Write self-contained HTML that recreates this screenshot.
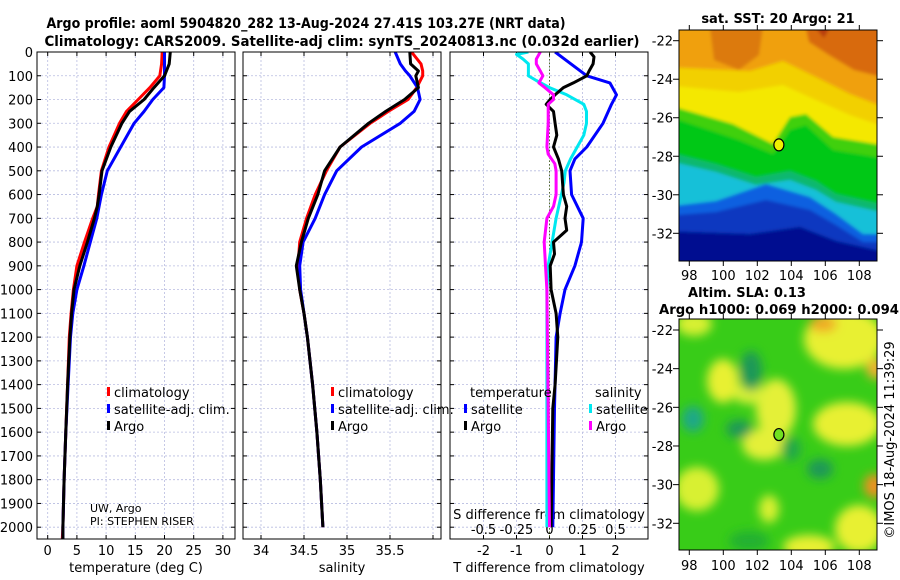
<!DOCTYPE html>
<html><head><meta charset="utf-8"><style>
html,body{margin:0;padding:0;background:#fff;}
svg{display:block;font-family:"DejaVu Sans","Liberation Sans",sans-serif;}
</style></head><body>
<svg id="fig" width="900" height="580" viewBox="0 0 900 580" xmlns="http://www.w3.org/2000/svg">
<defs>
<clipPath id="c1"><rect x="37" y="52" width="198" height="487"/></clipPath>
<clipPath id="c2"><rect x="243" y="52" width="198" height="487"/></clipPath>
<clipPath id="c3"><rect x="450" y="52" width="198" height="487"/></clipPath>
<clipPath id="m1"><rect x="679" y="30" width="198" height="231"/></clipPath>
<clipPath id="m2"><rect x="679" y="319" width="198" height="231"/></clipPath>
<filter id="bl" x="-20%" y="-20%" width="140%" height="140%"><feGaussianBlur stdDeviation="1.5"/></filter>
<filter id="bl2" x="-50%" y="-50%" width="200%" height="200%"><feGaussianBlur stdDeviation="5"/></filter>
</defs>
<text x="306" y="28" text-anchor="middle" font-weight="bold" font-size="14" textLength="519" lengthAdjust="spacingAndGlyphs">Argo profile: aoml 5904820_282 13-Aug-2024 27.41S 103.27E (NRT data)</text>
<text x="342" y="46" text-anchor="middle" font-weight="bold" font-size="14" textLength="595" lengthAdjust="spacingAndGlyphs">Climatology: CARS2009. Satellite-adj clim: synTS_20240813.nc (0.032d earlier)</text>

<!-- top map -->
<g clip-path="url(#m1)">
<g filter="url(#bl)" transform="translate(679,30)">
<rect x="-20" y="-20" width="240" height="275" fill="#f0a008"/>
<path d="M30,-10 L85,-10 L80,25 L60,40 L35,30 Z" fill="#dc7a10"/>
<path d="M125,-10 L215,-10 L215,50 L175,40 L150,25 L130,12 Z" fill="#d86a10"/>
<path d="M130,-10 L155,-10 L145,8 Z" fill="#b83c08"/>
<path d="M-15,37 L71,41 L104,31 L137,47 L171,64 L215,81 L215,250 L-15,250 Z" fill="#f2d000"/>
<path d="M-15,55 L60,62 L104,55 L137,70 L171,85 L215,100 L215,250 L-15,250 Z" fill="#f4e800"/>
<path d="M-15,74 L54,94 L94,114 L111,87 L127,84 L154,107 L215,117 L215,250 L-15,250 Z" fill="#40d010"/>
<path d="M-15,85 L60,110 L94,124 L111,100 L127,95 L154,120 L215,130 L215,250 L-15,250 Z" fill="#00c818"/>
<path d="M-15,121 L37,134 L77,147 L111,141 L137,151 L157,164 L215,177 L215,250 L-15,250 Z" fill="#10b870"/>
<path d="M-15,130 L37,142 L77,155 L111,150 L137,160 L157,172 L215,185 L215,250 L-15,250 Z" fill="#18c0d8"/>
<path d="M-15,177 L37,171 L87,154 L131,167 L157,184 L184,204 L215,204 L215,250 L-15,250 Z" fill="#1060e0"/>
<path d="M-15,186 L37,182 L87,170 L131,180 L157,195 L184,212 L215,212 L215,250 L-15,250 Z" fill="#0838c0"/>
<path d="M-15,201 L71,204 L121,197 L157,211 L215,224 L215,250 L-15,250 Z" fill="#000c90"/>
</g></g>
<rect x="679" y="30" width="198" height="231" fill="none" stroke="#000" stroke-width="1"/>
<text x="778" y="23" text-anchor="middle" font-weight="bold" font-size="13">sat. SST: 20 Argo: 21</text>

<!-- bottom map -->
<g clip-path="url(#m2)">
<g transform="translate(679,319)">
<rect x="-10" y="-10" width="220" height="250" fill="#38cc18"/>
<g filter="url(#bl2)">
<ellipse cx="44" cy="62" rx="16" ry="22" fill="#e8f030"/>
<ellipse cx="97" cy="90" rx="20" ry="30" fill="#e4f038"/>
<ellipse cx="85" cy="125" rx="22" ry="16" fill="#e4f038"/>
<ellipse cx="70" cy="75" rx="16" ry="10" fill="#d8f038"/>
<ellipse cx="165" cy="20" rx="40" ry="30" fill="#e8f030"/>
<ellipse cx="168" cy="105" rx="34" ry="22" fill="#e8f030"/>
<ellipse cx="180" cy="210" rx="24" ry="24" fill="#e8f030"/>
<ellipse cx="18" cy="170" rx="22" ry="22" fill="#d8f030"/>
<ellipse cx="15" cy="5" rx="18" ry="12" fill="#d8f030"/>
<ellipse cx="130" cy="228" rx="26" ry="12" fill="#e8f030"/>
<ellipse cx="90" cy="190" rx="10" ry="14" fill="#d8f030"/>
<ellipse cx="72" cy="52" rx="11" ry="20" fill="#1c9858"/>
<ellipse cx="14" cy="100" rx="11" ry="13" fill="#1ca888"/>
<ellipse cx="60" cy="110" rx="13" ry="9" fill="#1c9858"/>
<ellipse cx="141" cy="150" rx="13" ry="10" fill="#1c9858"/>
<ellipse cx="112" cy="130" rx="10" ry="12" fill="#22a848"/>
<ellipse cx="70" cy="222" rx="20" ry="10" fill="#22b030"/>
<ellipse cx="195" cy="167" rx="10" ry="12" fill="#f09020"/>
<ellipse cx="144" cy="5" rx="14" ry="8" fill="#f0a828"/>
<ellipse cx="197" cy="50" rx="10" ry="10" fill="#f0b030"/>
</g></g></g>
<rect x="679" y="319" width="198" height="231" fill="none" stroke="#000" stroke-width="1"/>
<text x="747" y="297" text-anchor="middle" font-weight="bold" font-size="13">Altim. SLA: 0.13</text>
<text x="779" y="314" text-anchor="middle" font-weight="bold" font-size="13" textLength="240" lengthAdjust="spacingAndGlyphs">Argo h1000: 0.069 h2000: 0.094</text>
<text transform="translate(894,440) rotate(-90)" text-anchor="middle" font-size="13">©IMOS 18-Aug-2024 11:39:29</text>
<g id="plots"></g>
</svg>
<script>
// ---- data ----
const depthTicks = [0,100,200,300,400,500,600,700,800,900,1000,1100,1200,1300,1400,1500,1600,1700,1800,1900,2000];
const tTicks = [0,5,10,15,20,25,30];
const sTicks = [34,34.5,35,35.5];
const dTTicks = [-2,-1,0,1,2];
const dSTicks = [-0.5,-0.25,0,0.25,0.5];
const dSTickLabels = ["-0.5","-0.25","0","0.25","0.5"];
const lonTicks = [98,100,102,104,106,108];
const latTicks = [-22,-24,-26,-28,-30,-32];
const argoLon = 103.27, argoLat = -27.41;

const tDepth = [0,50,100,150,200,250,300,400,500,600,650,700,800,900,1000,1100,1200,1400,1600,1800,2000,2050];
const tClim  = [19.6,19.5,19.2,17.5,15.5,13.5,12.3,10.5,9.2,8.7,8.5,7.7,6.3,5.0,4.4,4.0,3.7,3.4,3.1,2.8,2.6,2.5];
const tArgo  = [21.0,20.8,20.0,18.2,16.5,14.0,12.7,10.8,9.3,8.8,8.5,8.0,6.8,5.5,4.5,4.1,3.8,3.4,3.1,2.8,2.6,2.6];
const tSat   = [20.0,20.0,20.0,19.9,18.0,16.5,14.8,12.5,10.2,9.2,8.8,8.4,7.3,6.2,5.0,4.3,3.9,3.5,3.1,2.8,2.6,2.6];

const sDepth = [0,50,80,100,150,200,250,300,400,500,600,700,800,900,1000,1100,1200,1400,1600,1800,2000];
const sClim  = [35.75,35.86,35.88,35.88,35.81,35.71,35.48,35.27,34.92,34.76,34.63,34.53,34.45,34.43,34.45,34.5,34.54,34.6,34.65,34.69,34.72];
const sArgo  = [35.73,35.74,35.83,35.80,35.83,35.67,35.45,35.25,34.92,34.74,34.66,34.55,34.47,34.41,34.45,34.5,34.54,34.6,34.65,34.69,34.72];
const sSat   = [35.56,35.62,35.68,35.73,35.82,35.85,35.78,35.62,35.17,34.88,34.74,34.63,34.49,34.45,34.46,34.5,34.54,34.6,34.65,34.69,34.72];

const dtSatDepth = [0,100,130,180,220,300,400,450,500,600,700,800,900,1000,1100,1200,1500,2000];
const dtSat      = [0.17,1.13,1.83,2.03,1.88,1.62,1.13,0.77,0.62,0.67,1.02,0.97,0.77,0.47,0.32,0.2,0.15,0.1];
const dtArgoDepth = [0,20,50,80,100,130,150,180,200,220,250,300,350,400,450,500,600,650,700,750,800,850,900,1000,1100,1200,1400,1500,2000];
const dtArgo      = [1.23,1.35,1.32,1.2,1.13,0.72,0.42,0.17,0.02,-0.1,0.12,0.17,0.22,0.12,0.27,0.37,0.42,0.52,0.47,0.52,0.12,0.15,0.02,0.05,0.2,0.25,0.17,0.1,0.05];
const dsSatDepth = [0,10,30,50,100,120,150,180,220,250,300,350,400,450,500,550,600,700,800,900,1000,1500,2000];
const dsSat      = [-0.16,-0.25,-0.2,-0.16,-0.16,-0.1,0,0.13,0.26,0.28,0.28,0.26,0.21,0.16,0.12,0.11,0.09,0.05,0.02,-0.01,-0.02,-0.02,-0.02];
const dsArgoDepth = [0,30,50,80,100,130,150,180,200,220,300,400,430,470,500,600,650,700,800,900,1000,1500,2000];
const dsArgo      = [-0.07,-0.1,-0.1,-0.07,-0.05,-0.08,-0.035,0.03,0.03,-0.01,-0.01,-0.02,-0.01,0.04,0.05,0.05,0.03,-0.02,-0.04,-0.03,-0.02,-0.01,0];

// ---- scales ----
const yD = d => 52 + d*0.2376;
const xT = t => 47.7 + t*5.84;
const xS = s => 261 + (s-34)*86;
const xDT = v => 549.5 + v*33;
const xDS = v => 549.5 + v*132;
const mapX = lon => 689.3 + (lon-98)*17;
const mapY1 = lat => 40.7 + (-22-lat)*19.26;
const mapY2 = lat => 330 + (-22-lat)*19.33;

const NS='http://www.w3.org/2000/svg';
const root=document.getElementById('plots');
function mk(tag,attrs,parent){const e=document.createElementNS(NS,tag);for(const k in attrs)e.setAttribute(k,attrs[k]);(parent||root).appendChild(e);return e;}
function txt(s,x,y,size,anchor,parent){const e=mk('text',{x:x,y:y,'font-size':size,'text-anchor':anchor||'middle'},parent);e.textContent=s;return e;}

const panels=[{x0:37,clip:'c1',name:'temperature'},{x0:243,clip:'c2',name:'salinity'},{x0:450,clip:'c3',name:'difference'}];
const W=198, Y0=52, Y1=539;
const gridXs=[tTicks.map(xT), [34,34.5,35,35.5,36].map(xS).filter(x=>x<441), dTTicks.map(xDT)];
panels.forEach((p,i)=>{
  const g=mk('g',{});
  
  
  depthTicks.forEach(d=>{
    const l=mk('line',{x1:p.x0,x2:p.x0+W,y1:yD(d),y2:yD(d),stroke:'#b8bce0','stroke-width':0.8,'stroke-dasharray':'2,2'},g);
    
    
    mk('line',{x1:p.x0,x2:p.x0+4,y1:yD(d),y2:yD(d),stroke:'#000'},g);
    mk('line',{x1:p.x0+W-4,x2:p.x0+W,y1:yD(d),y2:yD(d),stroke:'#000'},g);
  });
  gridXs[i].forEach(x=>{
    const l=mk('line',{x1:x,x2:x,y1:Y0,y2:Y1,stroke:'#b8bce0','stroke-width':0.8,'stroke-dasharray':'2,2'},g);
    
    
    mk('line',{x1:x,x2:x,y1:Y1-4,y2:Y1,stroke:'#000'},g);
    mk('line',{x1:x,x2:x,y1:Y0,y2:Y0+4,stroke:'#000'},g);
  });
});
depthTicks.forEach(d=>{
  const t=txt(String(d),33,yD(d)+5,13,'end');
  
  
});
tTicks.forEach(v=>{const t=txt(String(v),xT(v),555,13);});
sTicks.forEach(v=>{const t=txt(String(v),xS(v),555,13);});
dTTicks.forEach(v=>{const t=txt(String(v),xDT(v),555,13);});
dSTicks.forEach((v,i)=>{const t=txt(dSTickLabels[i],xDS(v),534,13);});
let t;
t=txt('temperature (deg C)',136,572,13);
t=txt('salinity',342,572,13);
t=txt('T difference from climatology',549,572,13);
t=txt('S difference from climatology',549,519,13);
t=txt('UW, Argo',90,512,11,'start');
t=txt('PI: STEPHEN RISER',90,525,11,'start');

const z=mk('line',{x1:xDT(0),x2:xDT(0),y1:Y0,y2:Y1,stroke:'#556b2f','stroke-width':1,'stroke-dasharray':'1.5,2'});



function series(xs,ds,xf,color,clip,name){
  const pts=xs.map((v,i)=>xf(v).toFixed(1)+','+yD(ds[i]).toFixed(1)).join(' ');
  const l=mk('polyline',{points:pts,fill:'none',stroke:color,'stroke-width':3,'stroke-linejoin':'round','clip-path':'url(#'+clip+')'});
  
  
}
series(tClim,tDepth,xT,'#ff0000','c1','temperature-climatology-line');
series(tSat,tDepth,xT,'#0000ff','c1','temperature-satellite-line');
series(tArgo,tDepth,xT,'#000000','c1','temperature-argo-line');
series(sClim,sDepth,xS,'#ff0000','c2','salinity-climatology-line');
series(sSat,sDepth,xS,'#0000ff','c2','salinity-satellite-line');
series(sArgo,sDepth,xS,'#000000','c2','salinity-argo-line');
series(dtSat,dtSatDepth,xDT,'#0000ff','c3','tdiff-satellite-line');
series(dsSat,dsSatDepth,xDS,'#00e8f0','c3','sdiff-satellite-line');
series(dtArgo,dtArgoDepth,xDT,'#000000','c3','tdiff-argo-line');
series(dsArgo,dsArgoDepth,xDS,'#ff00ff','c3','sdiff-argo-line');

panels.forEach(p=>{
  const r=mk('rect',{x:p.x0,y:Y0,width:W,height:Y1-Y0,fill:'none',stroke:'#000','stroke-width':1});
  
  
});

function legItem(x,y,color,label,name){
  const g=mk('g',{});
  
  
  mk('rect',{x:x-6,y:y-10,width:3,height:9,fill:color},g);
  txt(label,x+1,y,13,'start',g);
}
legItem(113,397,'#ff0000','climatology','legend-climatology');
legItem(113,414,'#0000ff','satellite-adj. clim.','legend-satellite-adj');
legItem(113,431,'#000','Argo','legend-argo');
legItem(337,397,'#ff0000','climatology','legend-climatology-2');
legItem(337,414,'#0000ff','satellite-adj. clim.','legend-satellite-adj-2');
legItem(337,431,'#000','Argo','legend-argo-2');
t=txt('temperature',470,397,13,'start');
t=txt('salinity',595,397,13,'start');
legItem(470,414,'#0000ff','satellite','legend-tdiff-satellite');
legItem(470,431,'#000','Argo','legend-tdiff-argo');
legItem(595,414,'#00e8f0','satellite','legend-sdiff-satellite');
legItem(595,431,'#ff00ff','Argo','legend-sdiff-argo');

[[mapY1,30,261,280],[mapY2,319,550,570]].forEach(([my,top,bot,ly],k)=>{
  latTicks.forEach(v=>{
    mk('line',{x1:673,x2:679,y1:my(v),y2:my(v),stroke:'#000'});
    mk('line',{x1:877,x2:883,y1:my(v),y2:my(v),stroke:'#000'});
    const e=txt(String(v),673,my(v)+5,13,'end');
    
    
  });
  lonTicks.forEach(v=>{
    mk('line',{x1:mapX(v),x2:mapX(v),y1:top-5,y2:top,stroke:'#000'});
    mk('line',{x1:mapX(v),x2:mapX(v),y1:bot,y2:bot+5,stroke:'#000'});
    const e=txt(String(v),mapX(v),ly,13);
    
    
  });
  const c=mk('ellipse',{cx:mapX(argoLon),cy:my(argoLat),rx:5,ry:6,fill:k===0?'#f0f000':'#70e020',stroke:'#000','stroke-width':1.2});
  
  
});
</script>
</body></html>
